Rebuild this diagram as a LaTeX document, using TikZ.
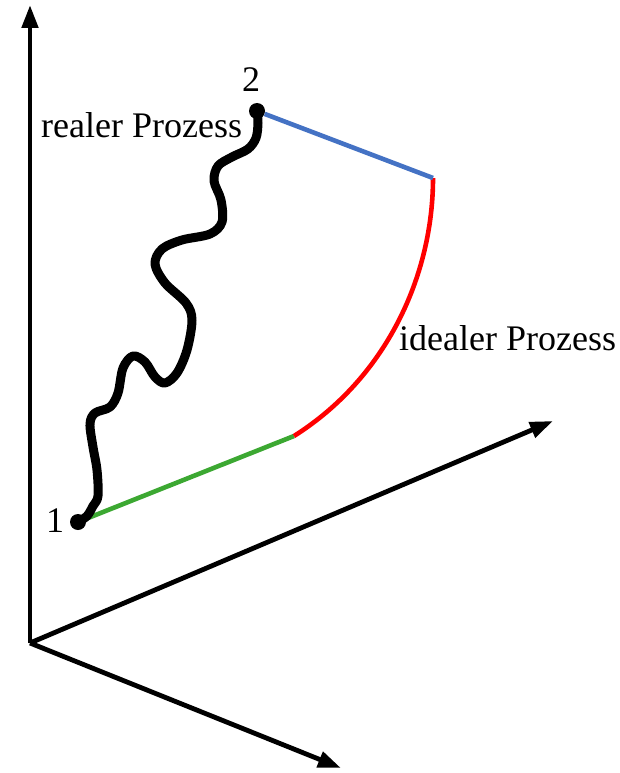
\documentclass[tikz,border=0pt]{standalone}
\usepackage{fontspec}
\setmainfont{Liberation Serif}
\usetikzlibrary{arrows.meta}
\definecolor{idgreen}{RGB}{60,168,50}
\definecolor{idblue}{RGB}{68,114,196}
\definecolor{idred}{RGB}{255,0,0}
\tikzset{
  axis/.style={line width=4.8pt,-{Triangle[length=23pt,width=16pt]}},
  statedot/.style={circle,fill=black,minimum size=16pt,inner sep=0pt},
  lbl/.style={inner sep=0pt,anchor=base west,font=\fontsize{36}{40}\selectfont},
  segline/.style={line width=4.6pt},
  wavy/.style={line width=9pt,line cap=round,line join=round}
}
\begin{document}
\begin{tikzpicture}[x=1pt,y=-1pt]
\useasboundingbox (0,0) rectangle (620,773);
% axes
\coordinate (o) at (30,643);
\coordinate (zend) at (30,5);
\coordinate (xend) at (553,421);
\coordinate (yend) at (341,768);
\draw[axis] (o) -- (zend);
\draw[axis] (o) -- (xend);
\draw[axis] (o) -- (yend);
% state points
\node[statedot] (p1) at (78,522) {};
\node[statedot] (p2) at (257,111) {};
\coordinate (a) at (294,436);
\coordinate (b) at (433,178);
% ideal process
\draw[segline,idgreen] (p1) -- (a);
\draw[segline,idred] (b) .. controls (433,276) and (386,378) .. (a);
\draw[segline,idblue] (p2) -- (b);
% real process
\draw[wavy] plot[smooth,tension=0.55] coordinates {(p1) (87,516) (93,506) (98,496) (97,470) (93,447) (90,424) (95,413) (110,407) (118,393) (123,368) (133,356) (145,362) (155,377) (165,383) (177,373) (187,350) (192,320) (186,303) (165,283) (155,264) (162,249) (182,240) (210,234) (222,222) (221,200) (214,181) (218,166) (232,157) (248,149) (256,138) (258,123) (p2)};
% labels
\node[lbl] (t1) at (46,532) {1};
\node[lbl] (t2) at (242,92) {2};
\node[lbl] (treal) at (41,137) {realer Prozess};
\node[lbl] (tideal) at (399,350) {idealer Prozess};
\end{tikzpicture}
\end{document}
